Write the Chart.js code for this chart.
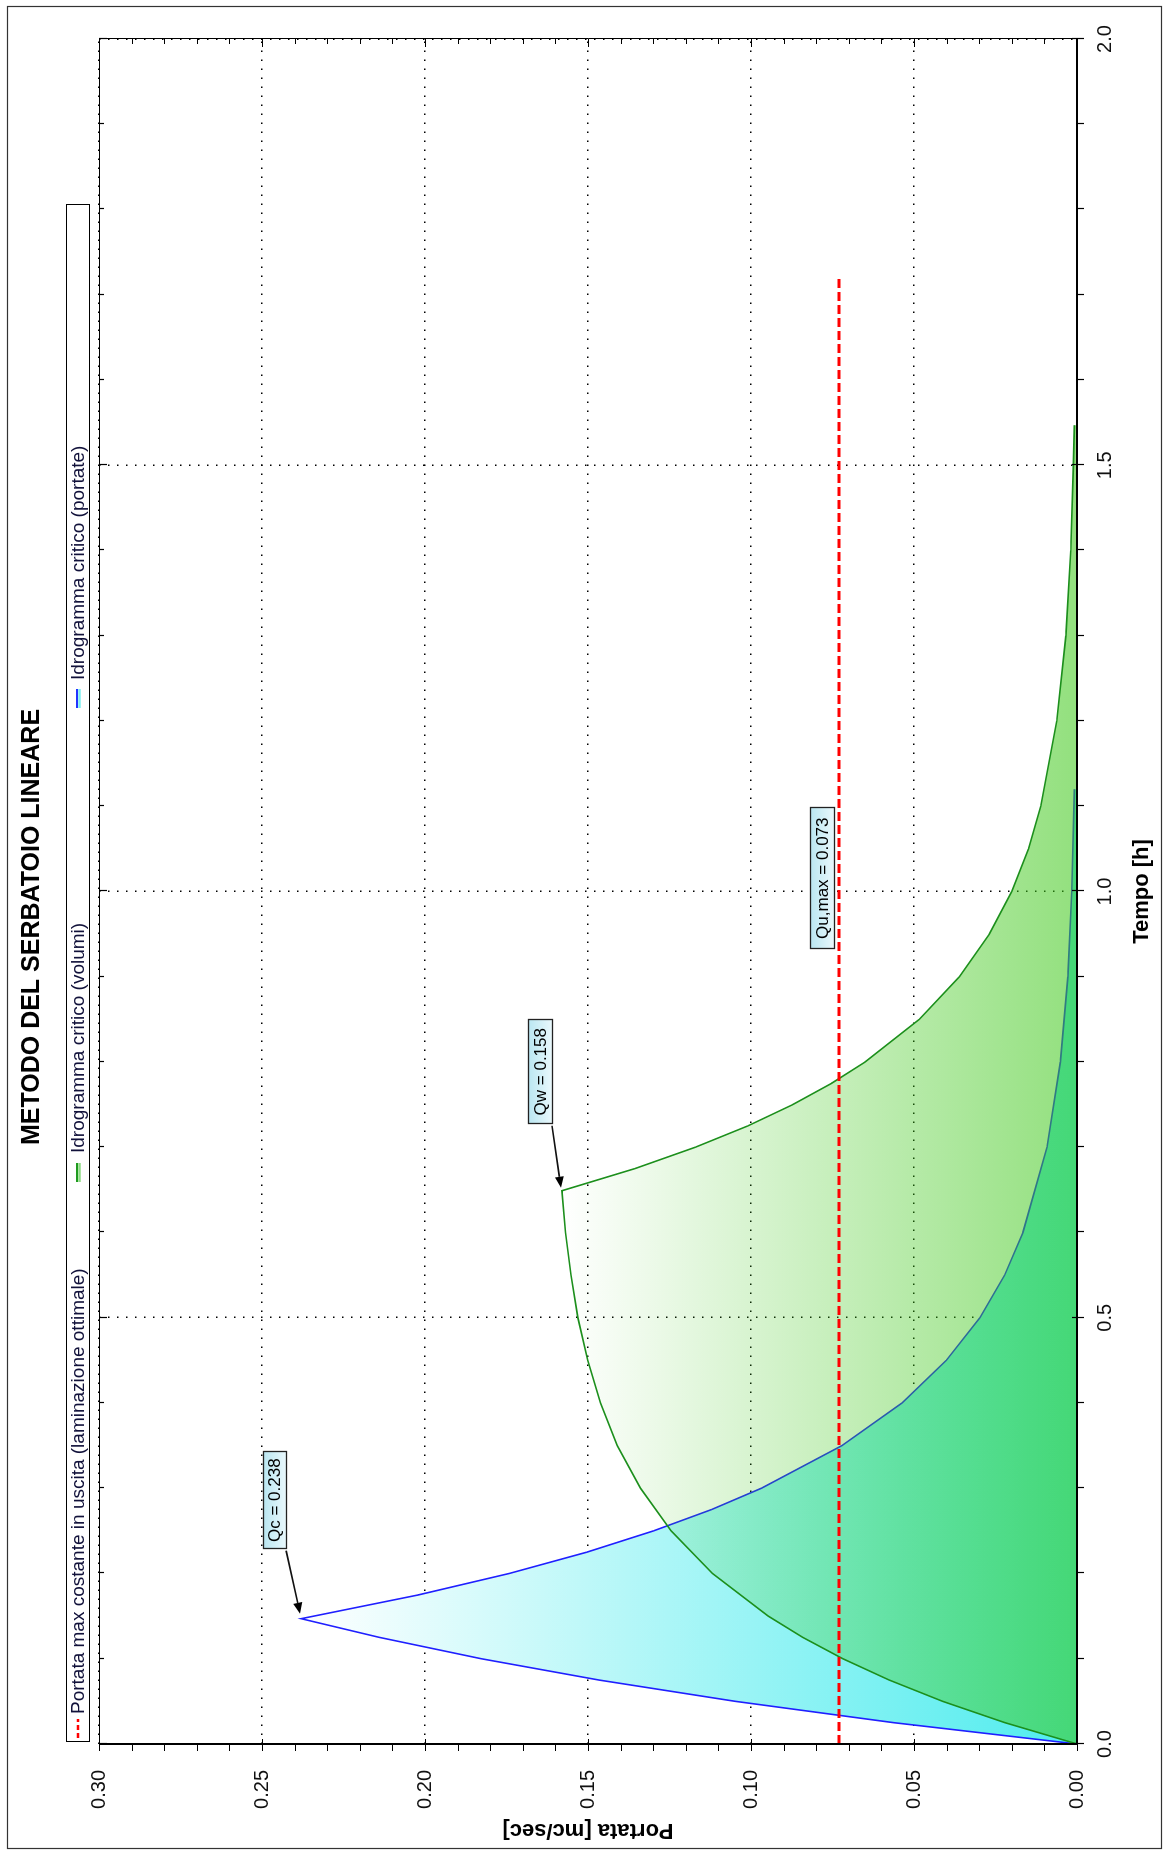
<!DOCTYPE html>
<html><head><meta charset="utf-8">
<script src="https://cdn.jsdelivr.net/npm/chart.js@4.4.1/dist/chart.umd.min.js"></script>
<style>
html,body{margin:0;padding:0;background:#fff;overflow:hidden;}
#wrap{position:relative;width:1167px;height:1854px;overflow:hidden;}
#c{position:absolute;left:0;top:0;width:1854px;height:1167px;transform-origin:0 0;transform:translate(0px,1854px) rotate(-90deg);}
</style></head><body>
<div id="wrap"><canvas id="c" width="1854" height="1167"></canvas></div>
<script>
// ---------------- DATA ----------------
const chartTitle = 'METODO DEL SERBATOIO LINEARE';
const xAxisTitle = 'Tempo [h]';
const yAxisTitle = 'Portata [mc/sec]';
const seriesNames = [
  'Portata max costante in uscita (laminazione ottimale)',
  'Idrogramma critico (volumi)',
  'Idrogramma critico (portate)'
];
// Idrogramma critico (portate) - blue
const tempoPortate   = [0, 0.025, 0.05, 0.075, 0.1, 0.125, 0.147, 0.175, 0.2, 0.225, 0.25, 0.275, 0.3, 0.35, 0.4, 0.45, 0.5, 0.55, 0.6, 0.7, 0.8, 0.9, 1.0, 1.12];
const portataPortate = [0, 0.0562, 0.1047, 0.1466, 0.1827, 0.2139, 0.2380, 0.2019, 0.1742, 0.1504, 0.1299, 0.1121, 0.0968, 0.0721, 0.0537, 0.0401, 0.0298, 0.0222, 0.0166, 0.0092, 0.0051, 0.0028, 0.0016, 0.0008];
// Idrogramma critico (volumi) - green
const tempoVolumi   = [0, 0.025, 0.05, 0.075, 0.1, 0.125, 0.15, 0.2, 0.25, 0.3, 0.35, 0.4, 0.45, 0.5, 0.55, 0.6, 0.649, 0.675, 0.7, 0.725, 0.75, 0.775, 0.8, 0.85, 0.9, 0.95, 1.0, 1.05, 1.1, 1.2, 1.3, 1.4, 1.5, 1.547];
const portataVolumi = [0, 0.0221, 0.0412, 0.0576, 0.0718, 0.0841, 0.0947, 0.1118, 0.1245, 0.1339, 0.1410, 0.1462, 0.1501, 0.1531, 0.1552, 0.1569, 0.1580, 0.1356, 0.1171, 0.1010, 0.0872, 0.0753, 0.0650, 0.0484, 0.0361, 0.0269, 0.0200, 0.0149, 0.0111, 0.0062, 0.0034, 0.0019, 0.0011, 0.0008];
// Portata max costante in uscita - red dashed
const tempoUscita   = [0, 1.72];
const portataUscita = [0.073, 0.073];
// axis ranges / ticks
const tempoRange = [0, 2];
const portataRange = [0, 0.30];
const tempoStep = 0.5, tempoMinorStep = 0.1;
const portataStep = 0.05, portataMinorStep = 0.01;
// callouts
const calloutLabels  = ['Qc = 0.238', 'Qw = 0.158', 'Qu,max = 0.073'];
const calloutTempo   = [0.147, 0.649, 1.015];
const calloutPortata = [0.238, 0.158, 0.073];

// ---------------- BUILD ----------------
const FONT = "'Liberation Sans', Arial, sans-serif";
const pts = (xs, ys) => xs.map((x, i) => ({x, y: ys[i]}));

function vGrad(ctx, topVal, c0, c1) {
  const chart = ctx.chart;
  if (!chart.chartArea) return c0;
  const y = chart.scales.y;
  const g = chart.ctx.createLinearGradient(0, y.getPixelForValue(0), 0, y.getPixelForValue(topVal));
  g.addColorStop(0, c0);
  g.addColorStop(1, c1);
  return g;
}

const deco = {
  id: 'deco',
  beforeDraw(chart) {
    const c = chart.ctx;
    c.save(); c.fillStyle = '#ffffff'; c.fillRect(0, 0, chart.width, chart.height); c.restore();
  },
  afterDatasetsDraw(chart) {
    const c = chart.ctx, a = chart.chartArea, xs = chart.scales.x, ys = chart.scales.y;
    c.save();
    c.strokeStyle = '#000';
    // top & right borders
    c.lineWidth = 1;
    c.beginPath();
    c.moveTo(a.left, a.top + 0.5); c.lineTo(a.right + 0.5, a.top + 0.5);
    c.lineTo(a.right + 0.5, a.bottom);
    c.stroke();
    // axis lines
    c.lineWidth = 2;
    c.beginPath();
    c.moveTo(a.left, a.top); c.lineTo(a.left, a.bottom); c.lineTo(a.right + 1, a.bottom);
    c.stroke();
    // ticks
    c.lineWidth = 1.2;
    c.beginPath();
    const nT = Math.round((tempoRange[1] - tempoRange[0]) / tempoMinorStep);
    for (let i = 0; i <= nT; i++) {
      const v = tempoRange[0] + i * tempoMinorStep;
      const px = Math.round(xs.getPixelForValue(v)) + 0.5;
      const major = i % Math.round(tempoStep / tempoMinorStep) === 0;
      c.moveTo(px, a.bottom - (major ? 5 : 0)); c.lineTo(px, a.bottom + 7);
      c.moveTo(px, a.top); c.lineTo(px, a.top + (major ? 8 : 5));
    }
    const nQ = Math.round((portataRange[1] - portataRange[0]) / portataMinorStep);
    for (let j = 0; j <= nQ; j++) {
      const v = portataRange[0] + j * portataMinorStep;
      const py = Math.round(ys.getPixelForValue(v)) + 0.5;
      const major = j % Math.round(portataStep / portataMinorStep) === 0;
      c.moveTo(a.left - 7, py); c.lineTo(a.left + (major ? 5 : 0), py);
      c.moveTo(a.right, py); c.lineTo(a.right - (major ? 8 : 5), py);
    }
    c.stroke();

    // callouts
    const P = calloutTempo.map((t, i) => ({x: xs.getPixelForValue(t), y: ys.getPixelForValue(calloutPortata[i])}));
    const boxes = [
      {l: P[0].x + 70, t: P[0].y - 38, w: 97, h: 23, arrow: [P[0].x + 68, P[0].y - 15, P[0].x + 5, P[0].y - 1]},
      {l: P[1].x + 67, t: P[1].y - 34, w: 104, h: 24, arrow: [P[1].x + 65, P[1].y - 10, P[1].x + 3, P[1].y - 1]},
      {l: P[2].x - 70, t: P[2].y - 29, w: 141, h: 24, arrow: null}
    ];
    boxes.forEach((b, i) => {
      if (b.arrow) {
        const [x0, y0, x1, y1] = b.arrow;
        const ang = Math.atan2(y1 - y0, x1 - x0);
        const L = 11, W = 4.5;
        const bx = x1 - L * Math.cos(ang), by = y1 - L * Math.sin(ang);
        c.strokeStyle = '#111'; c.lineWidth = 1.6;
        c.beginPath(); c.moveTo(x0, y0); c.lineTo(bx, by); c.stroke();
        c.fillStyle = '#000';
        c.beginPath();
        c.moveTo(x1, y1);
        c.lineTo(bx + W * Math.sin(ang), by - W * Math.cos(ang));
        c.lineTo(bx - W * Math.sin(ang), by + W * Math.cos(ang));
        c.closePath(); c.fill();
      }
      const g = c.createLinearGradient(0, b.t, 0, b.t + b.h);
      g.addColorStop(0, '#b9e6f1');
      g.addColorStop(1, '#e9f8fc');
      c.fillStyle = g;
      c.fillRect(b.l, b.t, b.w, b.h);
      c.strokeStyle = '#222'; c.lineWidth = 1.3;
      c.strokeRect(Math.round(b.l) + 0.5, Math.round(b.t) + 0.5, b.w, b.h);
      c.fillStyle = '#000';
      c.font = '17px ' + FONT;
      c.textAlign = 'center'; c.textBaseline = 'middle';
      c.fillText(calloutLabels[i], b.l + b.w / 2, b.t + b.h / 2 + 1);
    });
    c.restore();
  },
  afterDraw(chart) {
    const c = chart.ctx;
    c.save();
    // title
    c.fillStyle = '#000';
    c.font = 'bold 25px ' + FONT;
    c.textAlign = 'center'; c.textBaseline = 'middle';
    c.fillText(chartTitle, chart.width / 2, 32);
    // legend box
    c.strokeStyle = '#000'; c.lineWidth = 1;
    c.strokeRect(112.5, 66.5, 1537, 23);
    const ds = chart.data.datasets;
    const items = [
      {sym: 116, txt: 140, d: ds[0]},
      {sym: 672, txt: 701, d: ds[1]},
      {sym: 1146, txt: 1174, d: ds[2]}
    ];
    const yc = 78;
    items.forEach((it, i) => {
      if (i === 0) {
        c.strokeStyle = '#ff0000'; c.lineWidth = 2.5; c.setLineDash([5, 3]);
        c.beginPath(); c.moveTo(it.sym, yc); c.lineTo(it.sym + 19, yc); c.stroke();
        c.setLineDash([]);
      } else {
        c.strokeStyle = i === 1 ? '#1f9a1f' : '#2233ff'; c.lineWidth = 2;
        c.beginPath(); c.moveTo(it.sym, yc - 1); c.lineTo(it.sym + 19, yc - 1); c.stroke();
        c.strokeStyle = i === 1 ? '#8fdc86' : '#7ef0f0'; c.lineWidth = 2.5;
        c.beginPath(); c.moveTo(it.sym, yc + 1.5); c.lineTo(it.sym + 19, yc + 1.5); c.stroke();
      }
      c.fillStyle = '#11113a';
      c.font = '19px ' + FONT;
      c.textAlign = 'left'; c.textBaseline = 'middle';
      c.fillText(it.d.label, it.txt, yc + 1);
    });
    // outer frame
    c.strokeStyle = '#333'; c.lineWidth = 1.2;
    c.strokeRect(5.5, 7.5, 1842, 1154);
    c.restore();
  }
};

const gridColor = '#000';
new Chart(document.getElementById('c'), {
  type: 'line',
  data: {
    datasets: [
      {
        label: seriesNames[0],
        data: pts(tempoUscita, portataUscita),
        borderColor: '#ff0000', borderWidth: 3, borderDash: [9, 4],
        pointRadius: 0, fill: false, tension: 0, order: 1
      },
      {
        label: seriesNames[1],
        data: pts(tempoVolumi, portataVolumi),
        borderColor: '#1c8f1c', borderWidth: 1.6,
        backgroundColor: ctx => vGrad(ctx, 0.158, 'rgba(62,200,25,0.56)', 'rgba(62,200,25,0.0)'),
        pointRadius: 0, fill: 'origin', tension: 0, order: 2
      },
      {
        label: seriesNames[2],
        data: pts(tempoPortate, portataPortate),
        borderColor: '#1f1fff', borderWidth: 1.6,
        backgroundColor: ctx => vGrad(ctx, 0.238, 'rgb(78,236,238)', 'rgb(255,255,255)'),
        pointRadius: 0, fill: 'origin', tension: 0, order: 3
      }
    ]
  },
  options: {
    responsive: false,
    animation: false,
    devicePixelRatio: 1,
    layout: {padding: {top: 99, right: 39, left: 0, bottom: 0}},
    plugins: {legend: {display: false}, title: {display: false}, tooltip: {enabled: false}},
    scales: {
      x: {
        type: 'linear', min: tempoRange[0], max: tempoRange[1],
        afterFit: s => { s.height = 90; },
        ticks: {stepSize: tempoStep, padding: 16, color: '#111', font: {family: FONT, size: 20},
          callback: v => Number(v).toFixed(1)},
        grid: {drawTicks: false, color: gridColor, lineWidth: 1.5},
        border: {display: false, dash: [1.5, 7.5]},
        title: {display: true, text: xAxisTitle, color: '#000', font: {family: FONT, size: 22, weight: 'bold'},
          padding: {top: 0, bottom: 12}}
      },
      y: {
        type: 'linear', min: portataRange[0], max: portataRange[1],
        afterFit: s => { s.width = 110; },
        ticks: {stepSize: portataStep, padding: 26, color: '#111', font: {family: FONT, size: 20},
          callback: v => Number(v).toFixed(2)},
        grid: {drawTicks: false, color: gridColor, lineWidth: 1.5},
        border: {display: false, dash: [1.5, 7.5]},
        title: {display: true, text: yAxisTitle, color: '#000', font: {family: FONT, size: 22, weight: 'bold'},
          padding: {top: 11, bottom: 0}}
      }
    }
  },
  plugins: [deco]
});
</script>
</body></html>
